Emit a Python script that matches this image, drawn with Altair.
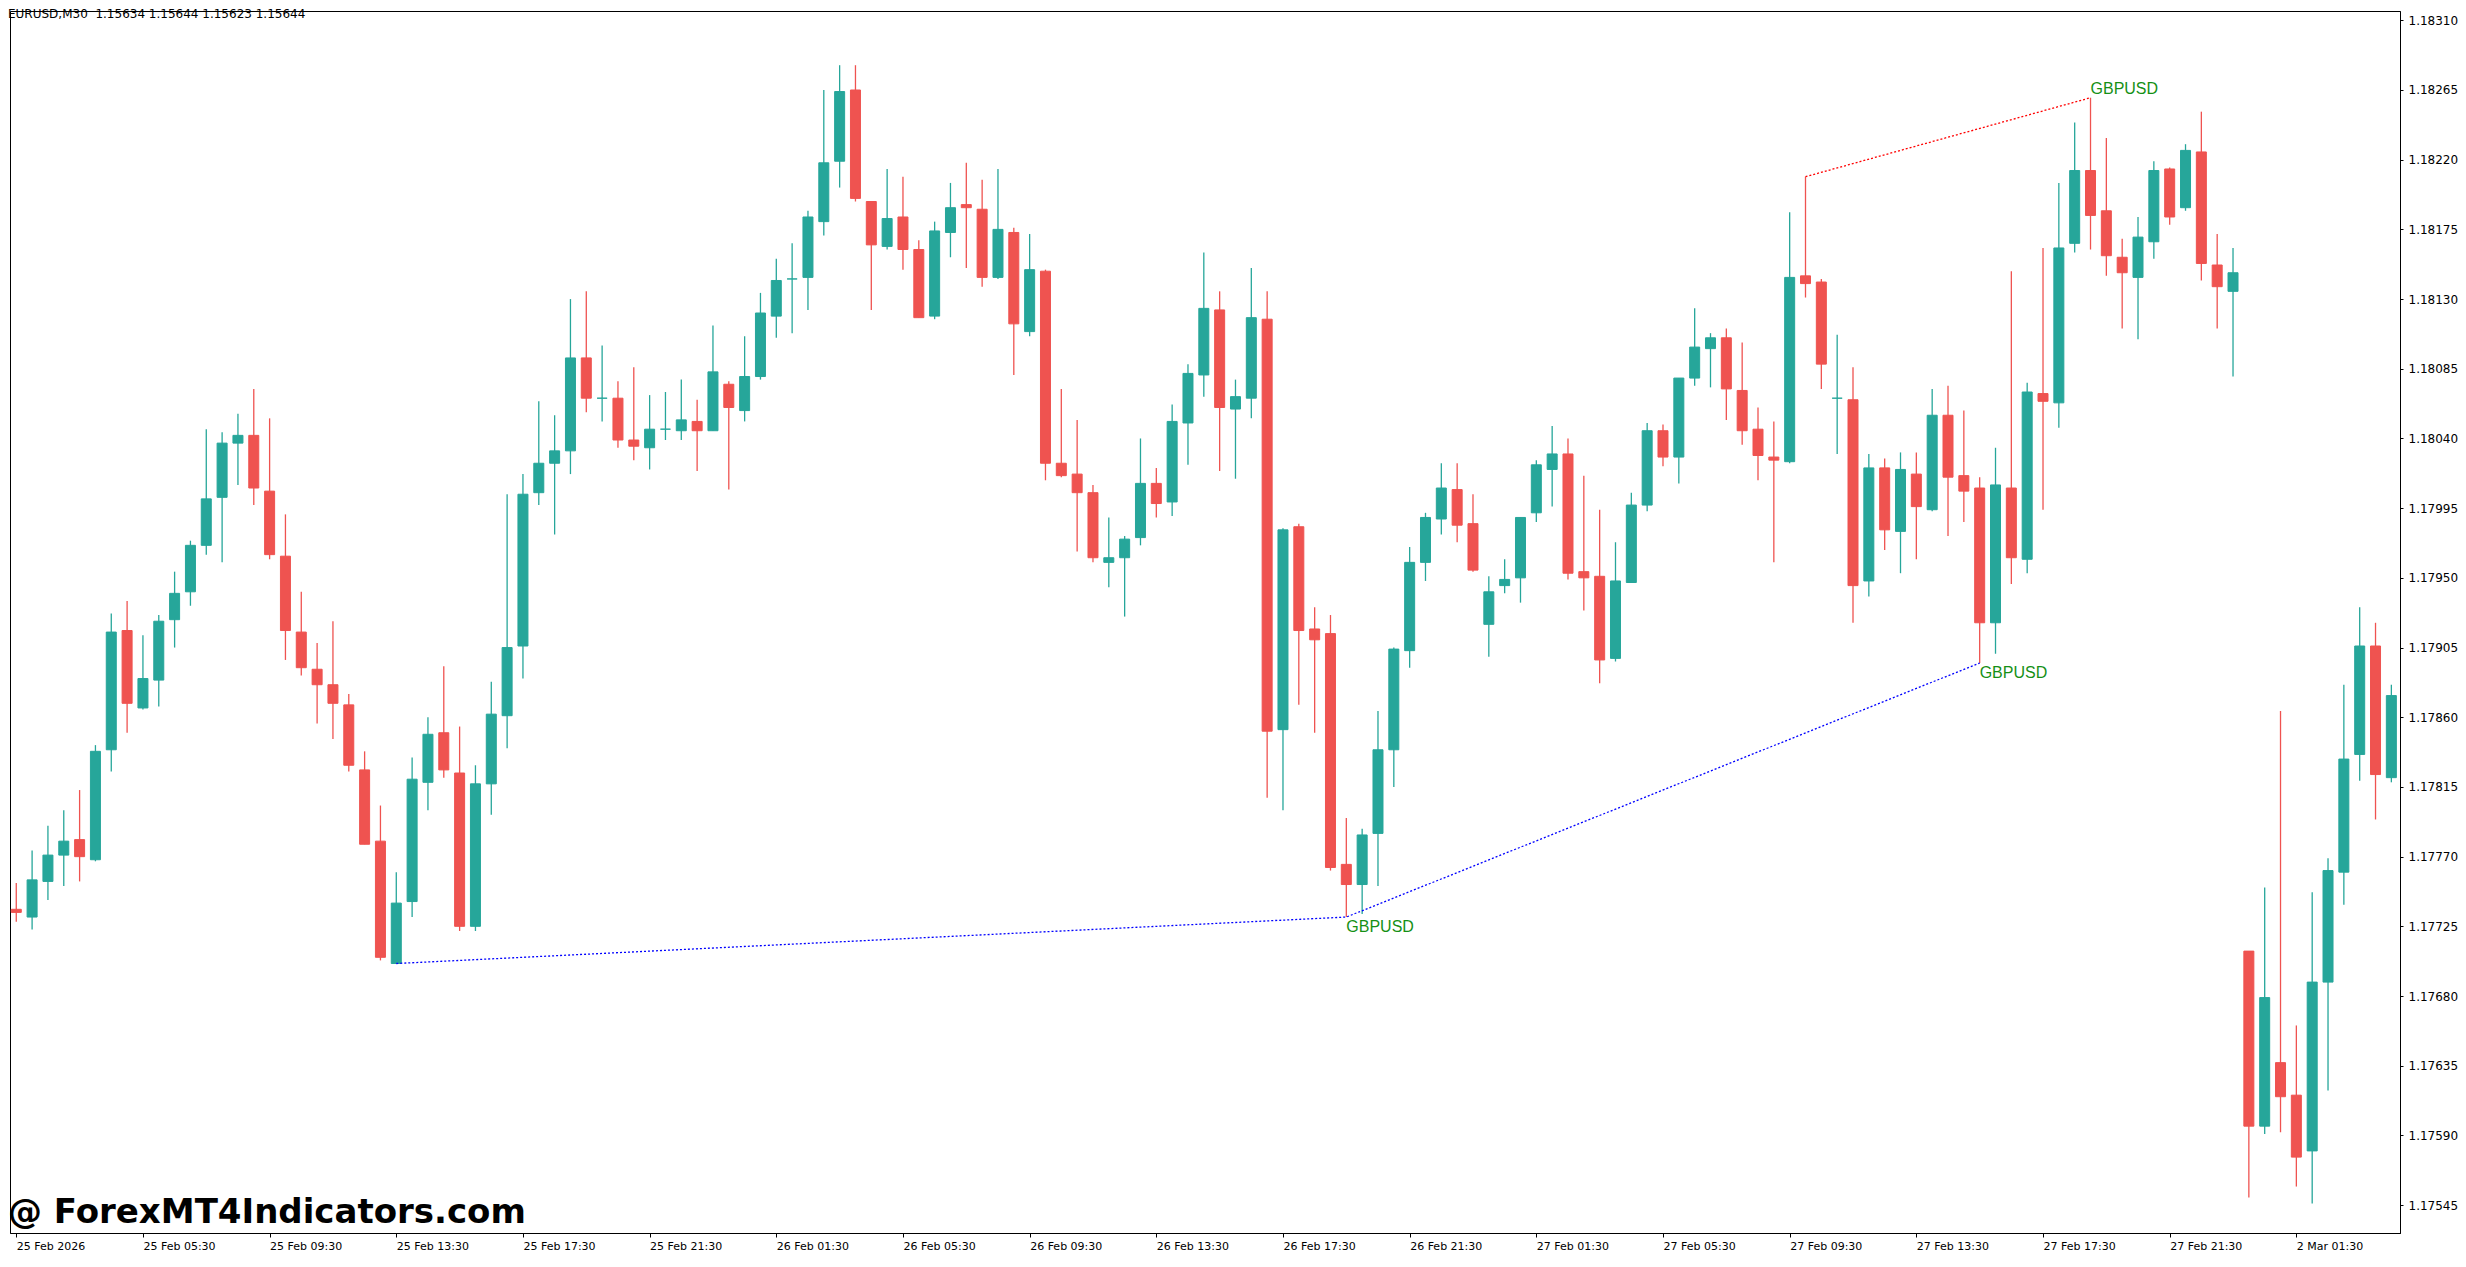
import altair as alt
import pandas as pd

# ---------------- data (EURUSD M30) ----------------
opens = [1.17736, 1.17731, 1.17754, 1.17771, 1.17781, 1.17768, 1.17839, 1.17916, 1.17866, 1.17884,
         1.17923, 1.17941, 1.17971, 1.18002, 1.18037, 1.18042, 1.18006, 1.17964, 1.17915, 1.17891,
         1.17881, 1.17868, 1.17826, 1.17780, 1.17701, 1.17741, 1.17818, 1.17850, 1.17824, 1.17725,
         1.17817, 1.17861, 1.17906, 1.18005, 1.18024, 1.18032, 1.18092, 1.18066, 1.18066, 1.18039,
         1.18034, 1.18046, 1.18045, 1.18051, 1.18045, 1.18075, 1.18058, 1.18080, 1.18119, 1.18143,
         1.18144, 1.18180, 1.18219, 1.18265, 1.18193, 1.18164, 1.18183, 1.18162, 1.18119, 1.18173,
         1.18191, 1.18188, 1.18144, 1.18173, 1.18109, 1.18148, 1.18024, 1.18017, 1.18005, 1.17960,
         1.17963, 1.17976, 1.18011, 1.17999, 1.18050, 1.18081, 1.18123, 1.18059, 1.18066, 1.18117,
         1.17852, 1.17983, 1.17917, 1.17914, 1.17765, 1.17752, 1.17785, 1.17839, 1.17903, 1.17960,
         1.17988, 1.18007, 1.17985, 1.17920, 1.17945, 1.17950, 1.17992, 1.18020, 1.18030, 1.17954,
         1.17951, 1.17898, 1.17947, 1.17997, 1.18045, 1.18028, 1.18079, 1.18098, 1.18105, 1.18071,
         1.18046, 1.18028, 1.18025, 1.18145, 1.18141, 1.18066, 1.18065, 1.17948, 1.18021, 1.17980,
         1.18017, 1.17994, 1.18055, 1.18016, 1.18008, 1.17921, 1.18008, 1.17962, 1.18069, 1.18063,
         1.18166, 1.18213, 1.18187, 1.18157, 1.18144, 1.18167, 1.18214, 1.18189, 1.18225, 1.18152,
         1.18135, 1.17709, 1.17596, 1.17637, 1.17616, 1.17580, 1.17689, 1.17760, 1.17836, 1.17906,
         1.17821]
highs = [1.17753, 1.17774, 1.17790, 1.17800, 1.17813, 1.17842, 1.17927, 1.17935, 1.17913, 1.17926,
         1.17954, 1.17974, 1.18046, 1.18044, 1.18056, 1.18072, 1.18053, 1.17991, 1.17941, 1.17908,
         1.17922, 1.17875, 1.17838, 1.17803, 1.17760, 1.17834, 1.17860, 1.17893, 1.17854, 1.17829,
         1.17883, 1.18004, 1.18017, 1.18064, 1.18055, 1.18130, 1.18135, 1.18100, 1.18077, 1.18086,
         1.18068, 1.18070, 1.18078, 1.18065, 1.18113, 1.18077, 1.18106, 1.18134, 1.18156, 1.18166,
         1.18187, 1.18265, 1.18281, 1.18281, 1.18193, 1.18214, 1.18209, 1.18168, 1.18180, 1.18205,
         1.18218, 1.18207, 1.18214, 1.18176, 1.18172, 1.18149, 1.18072, 1.18052, 1.18010, 1.17989,
         1.17977, 1.18040, 1.18021, 1.18062, 1.18088, 1.18160, 1.18135, 1.18078, 1.18150, 1.18135,
         1.17982, 1.17985, 1.17931, 1.17926, 1.17795, 1.17788, 1.17864, 1.17905, 1.17970, 1.17992,
         1.18024, 1.18024, 1.18004, 1.17951, 1.17962, 1.17989, 1.18026, 1.18048, 1.18040, 1.18016,
         1.17994, 1.17973, 1.18005, 1.18050, 1.18049, 1.18079, 1.18124, 1.18108, 1.18111, 1.18102,
         1.18060, 1.18051, 1.18186, 1.18209, 1.18143, 1.18107, 1.18086, 1.18030, 1.18027, 1.18031,
         1.18031, 1.18072, 1.18074, 1.18058, 1.18015, 1.18034, 1.18148, 1.18076, 1.18163, 1.18205,
         1.18244, 1.18260, 1.18234, 1.18169, 1.18183, 1.18219, 1.18215, 1.18230, 1.18251, 1.18172,
         1.18163, 1.17709, 1.17750, 1.17864, 1.17661, 1.17747, 1.17769, 1.17881, 1.17931, 1.17921,
         1.17881]
lows = [1.17728, 1.17723, 1.17742, 1.17751, 1.17754, 1.17767, 1.17825, 1.17850, 1.17865, 1.17867,
        1.17905, 1.17932, 1.17965, 1.17960, 1.18010, 1.17997, 1.17962, 1.17897, 1.17887, 1.17856,
        1.17846, 1.17825, 1.17778, 1.17703, 1.17701, 1.17731, 1.17800, 1.17821, 1.17722, 1.17722,
        1.17797, 1.17840, 1.17885, 1.17997, 1.17978, 1.18017, 1.18057, 1.18051, 1.18034, 1.18026,
        1.18020, 1.18039, 1.18039, 1.18019, 1.18045, 1.18007, 1.18051, 1.18078, 1.18105, 1.18108,
        1.18123, 1.18171, 1.18202, 1.18193, 1.18123, 1.18162, 1.18149, 1.18118, 1.18117, 1.18157,
        1.18150, 1.18138, 1.18143, 1.18081, 1.18106, 1.18013, 1.18015, 1.17967, 1.17960, 1.17944,
        1.17925, 1.17971, 1.17989, 1.17990, 1.18023, 1.18067, 1.18019, 1.18014, 1.18053, 1.17808,
        1.17800, 1.17868, 1.17850, 1.17761, 1.17731, 1.17733, 1.17751, 1.17815, 1.17892, 1.17948,
        1.17978, 1.17973, 1.17954, 1.17899, 1.17940, 1.17934, 1.17986, 1.17996, 1.17949, 1.17929,
        1.17882, 1.17896, 1.17947, 1.17993, 1.18022, 1.18011, 1.18074, 1.18073, 1.18052, 1.18036,
        1.18013, 1.17960, 1.18024, 1.18131, 1.18072, 1.18030, 1.17921, 1.17938, 1.17968, 1.17953,
        1.17962, 1.17993, 1.17977, 1.17986, 1.17895, 1.17901, 1.17946, 1.17953, 1.17994, 1.18047,
        1.18160, 1.18162, 1.18145, 1.18111, 1.18104, 1.18156, 1.18178, 1.18187, 1.18142, 1.18111,
        1.18080, 1.17550, 1.17591, 1.17592, 1.17557, 1.17546, 1.17619, 1.17739, 1.17819, 1.17794,
        1.17818]
closes = [1.17734, 1.17755, 1.17771, 1.17780, 1.17770, 1.17838, 1.17915, 1.17869, 1.17885, 1.17922,
          1.17940, 1.17971, 1.18001, 1.18037, 1.18042, 1.18008, 1.17965, 1.17916, 1.17892, 1.17881,
          1.17869, 1.17829, 1.17778, 1.17705, 1.17740, 1.17820, 1.17849, 1.17826, 1.17725, 1.17817,
          1.17862, 1.17905, 1.18004, 1.18024, 1.18032, 1.18092, 1.18066, 1.18066, 1.18039, 1.18035,
          1.18046, 1.18046, 1.18052, 1.18045, 1.18083, 1.18060, 1.18080, 1.18121, 1.18142, 1.18143,
          1.18183, 1.18218, 1.18264, 1.18195, 1.18165, 1.18182, 1.18162, 1.18118, 1.18174, 1.18189,
          1.18189, 1.18144, 1.18175, 1.18114, 1.18149, 1.18024, 1.18016, 1.18005, 1.17963, 1.17963,
          1.17975, 1.18011, 1.17998, 1.18051, 1.18082, 1.18124, 1.18060, 1.18067, 1.18118, 1.17851,
          1.17981, 1.17916, 1.17910, 1.17763, 1.17752, 1.17784, 1.17839, 1.17904, 1.17960, 1.17989,
          1.18008, 1.17984, 1.17955, 1.17941, 1.17949, 1.17989, 1.18023, 1.18030, 1.17953, 1.17950,
          1.17897, 1.17948, 1.17997, 1.18045, 1.18028, 1.18079, 1.18099, 1.18105, 1.18072, 1.18045,
          1.18029, 1.18026, 1.18144, 1.18140, 1.18088, 1.18066, 1.17945, 1.18021, 1.17981, 1.18020,
          1.17996, 1.18055, 1.18015, 1.18006, 1.17921, 1.18010, 1.17963, 1.18070, 1.18064, 1.18163,
          1.18213, 1.18184, 1.18158, 1.18147, 1.18170, 1.18213, 1.18183, 1.18226, 1.18153, 1.18138,
          1.18147, 1.17596, 1.17679, 1.17615, 1.17576, 1.17689, 1.17761, 1.17833, 1.17906, 1.17823,
          1.17874]

x_label_pos = [0, 8, 16, 24, 32, 40, 48, 56, 64, 72, 80, 88, 96, 104, 112, 120, 128, 136, 144]
x_labels = ["25 Feb 2026", "25 Feb 05:30", "25 Feb 09:30", "25 Feb 13:30", "25 Feb 17:30",
            "25 Feb 21:30", "26 Feb 01:30", "26 Feb 05:30", "26 Feb 09:30", "26 Feb 13:30",
            "26 Feb 17:30", "26 Feb 21:30", "27 Feb 01:30", "27 Feb 05:30", "27 Feb 09:30",
            "27 Feb 13:30", "27 Feb 17:30", "27 Feb 21:30", "2 Mar 01:30"]
y_ticks = [1.17545, 1.17590, 1.17635, 1.17680, 1.17725, 1.17770, 1.17815, 1.17860, 1.17905,
           1.17950, 1.17995, 1.18040, 1.18085, 1.18130, 1.18175, 1.18220, 1.18265, 1.18310]

# GBPUSD divergence lines (points on EURUSD lows / highs)
blue_idx = [24, 84, 124]
blue_price = [1.17701, 1.17731, 1.17895]
red_idx = [113, 131]
red_price = [1.18209, 1.18260]
label_low_idx = [84, 124]
label_low_price = [1.17731, 1.17895]
label_high_idx = [131]
label_high_price = [1.18260]

header = "EURUSD,M30\u00a0 1.15634 1.15644 1.15623 1.15644"
watermark = "@ ForexMT4Indicators.com"

# ---------------- chart ----------------
UP, DOWN = "#26a69a", "#ef5350"
W, H = 2390, 1222

df = pd.DataFrame({"k": list(range(len(opens))), "open": opens, "high": highs,
                   "low": lows, "close": closes})
df["dir"] = ["up" if c >= o else "down" for o, c in zip(opens, closes)]

xscale = alt.Scale(domain=[-0.08, 150.23], nice=False, zero=False)
yscale = alt.Scale(domain=[1.17527, 1.18316], nice=False, zero=False)
label_js = "[" + ",".join("'" + s + "'" for s in x_labels) + "][round(datum.value/8)]"
xaxis = alt.Axis(values=x_label_pos, labelExpr=label_js, labelAlign="left", labelBaseline="top",
                 labelPadding=3, tickSize=4, labelFont="DejaVu Sans", labelFontSize=11,
                 labelColor="black", tickColor="black", domainColor="black", grid=False,
                 labelOverlap=False, labelFlush=False, orient="bottom")
yaxis = alt.Axis(values=y_ticks, format=".5f", orient="right", labelFont="DejaVu Sans",
                 labelFontSize=12, labelColor="black", tickColor="black", domainColor="black",
                 tickSize=3, labelPadding=5, grid=False, labelOverlap=False, labelFlush=False)


def X():
    return alt.X("k:Q", scale=xscale, axis=xaxis, title=None)


def Y(field):
    return alt.Y(field + ":Q", scale=yscale, axis=yaxis, title=None)


cscale = alt.Scale(domain=["up", "down"], range=[UP, DOWN])

base = alt.Chart(df)
wicks = base.mark_rule(strokeWidth=1.3, clip=True).encode(
    x=X(), y=Y("low"), y2="high:Q",
    color=alt.Color("dir:N", scale=cscale, legend=None))
bodies = base.mark_bar(width=10, strokeWidth=1, clip=True).encode(
    x=X(), y=Y("open"), y2="close:Q",
    color=alt.Color("dir:N", scale=cscale, legend=None),
    stroke=alt.Stroke("dir:N", scale=cscale, legend=None))

blue_df = pd.DataFrame({"k": blue_idx, "price": blue_price})
red_df = pd.DataFrame({"k": red_idx, "price": red_price})
blue_line = alt.Chart(blue_df).mark_line(color="#0000ff", strokeWidth=1.3, strokeDash=[2, 2]).encode(
    x=X(), y=Y("price"))
red_line = alt.Chart(red_df).mark_line(color="#ff0000", strokeWidth=1.3, strokeDash=[2, 2]).encode(
    x=X(), y=Y("price"))

low_lbl = alt.Chart(pd.DataFrame({"k": label_low_idx, "price": label_low_price})).mark_text(
    align="left", baseline="top", dy=2, font="Liberation Sans", fontSize=16, color="#159015"
).encode(x=X(), y=Y("price"), text=alt.value("GBPUSD"))
high_lbl = alt.Chart(pd.DataFrame({"k": label_high_idx, "price": label_high_price})).mark_text(
    align="left", baseline="bottom", dy=-1, font="Liberation Sans", fontSize=16, color="#159015"
).encode(x=X(), y=Y("price"), text=alt.value("GBPUSD"))

head = alt.Chart(pd.DataFrame({"t": [header]})).mark_text(
    align="left", baseline="top", font="DejaVu Sans", fontSize=12, color="black"
).encode(x=alt.value(-2), y=alt.value(-2), text="t:N")
wm = alt.Chart(pd.DataFrame({"t": [watermark]})).mark_text(
    align="left", baseline="alphabetic", font="DejaVu Sans", fontSize=34, fontWeight="bold",
    color="black"
).encode(x=alt.value(-2), y=alt.value(H - 10), text="t:N")

chart = alt.layer(wicks, bodies, blue_line, red_line, low_lbl, high_lbl, head, wm).properties(
    width=W, height=H, padding=0, background="white"
).configure_view(stroke="black", strokeWidth=1)

chart.save("out.html", embed_options={"renderer": "svg", "actions": False})
